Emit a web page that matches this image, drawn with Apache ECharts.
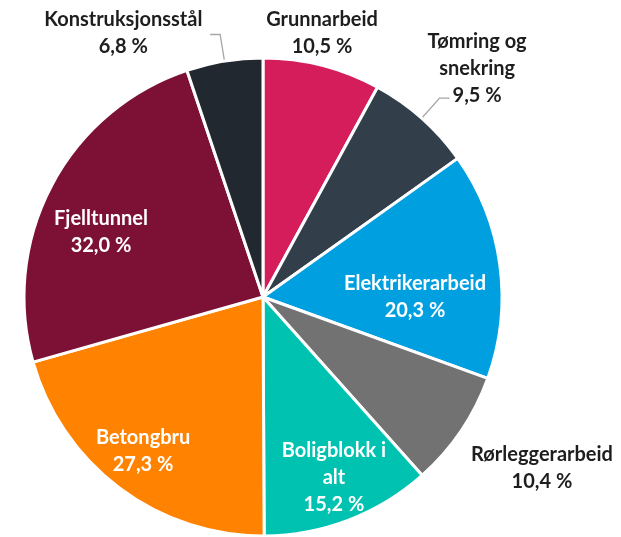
<!DOCTYPE html>
<html>
<head>
<meta charset="utf-8">
<script src="https://cdn.jsdelivr.net/npm/echarts@6/dist/echarts.min.js"></script>
<style>
    html, body { margin: 0; padding: 0; background: #fff; }
    #chart { width: 621px; height: 537px; }
</style>
</head>
<body>
<div id="chart"></div>
<script>
// andeler per arbeidstype (clockwise from 12 o'clock)
var categories = ['Grunnarbeid', 'Tømring og\nsnekring', 'Elektrikerarbeid', 'Rørleggerarbeid',
                  'Boligblokk i\nalt', 'Betongbru', 'Fjelltunnel', 'Konstruksjonsstål'];
var shares = [10.5, 9.5, 20.3, 10.4, 15.2, 27.3, 32.0, 6.8];

// styling
var colors = ['#D51D5B', '#323E4A', '#009FE0', '#727272', '#00C2B0', '#FF8200', '#7D1035', '#22282F'];
var whiteText = [false, false, true, false, true, true, true, false];
var leader = [false, true, false, false, false, false, false, true];
// where each label sits: distance from pie centre and angle (deg, clockwise from top)
var labelDist = [270.5, 313.4, 152, 327.2, 194.4, 195.2, 174.6, 298.6];
var labelAngle = [12.6, 43.1, 90, 121.5, 158.6, 217.9, 291.9, 332.1];

var CX = 263, CY = 297, R = 239;

function pct(v) {
    return v.toFixed(1).replace('.', ',') + ' %';
}

var myChart = echarts.init(document.getElementById('chart'));
var option = {
    animation: false,
    series: [{
        type: 'pie',
        center: [CX, CY],
        radius: R,
        startAngle: 90,
        clockwise: true,
        avoidLabelOverlap: false,
        emphasis: { disabled: true },
        itemStyle: { borderColor: '#fff', borderWidth: 3 },
        label: {
            show: true,
            fontFamily: 'Lato',
            fontWeight: 'bold',
            fontSize: 20,
            lineHeight: 27,
            formatter: function (p) { return p.name + '\n' + pct(p.value); }
        },
        labelLine: {
            length: 27,
            length2: 10,
            lineStyle: { color: '#A6A6A6', width: 1.3 }
        },
        labelLayout: function (p) {
            var i = p.dataIndex;
            var a = labelAngle[i] * Math.PI / 180;
            var res = {
                x: CX + labelDist[i] * Math.sin(a),
                y: CY - labelDist[i] * Math.cos(a),
                align: 'center',
                verticalAlign: 'middle'
            };
            if (leader[i]) res.labelLinePoints = p.labelLinePoints;
            return res;
        },
        data: categories.map(function (c, i) {
            return {
                name: c,
                value: shares[i],
                itemStyle: { color: colors[i] },
                label: {
                    position: leader[i] ? 'outside' : 'inside',
                    color: whiteText[i] ? '#fff' : '#1E1E1E'
                },
                labelLine: { show: leader[i] }
            };
        })
    }]
};
myChart.setOption(option);
</script>
</body>
</html>
